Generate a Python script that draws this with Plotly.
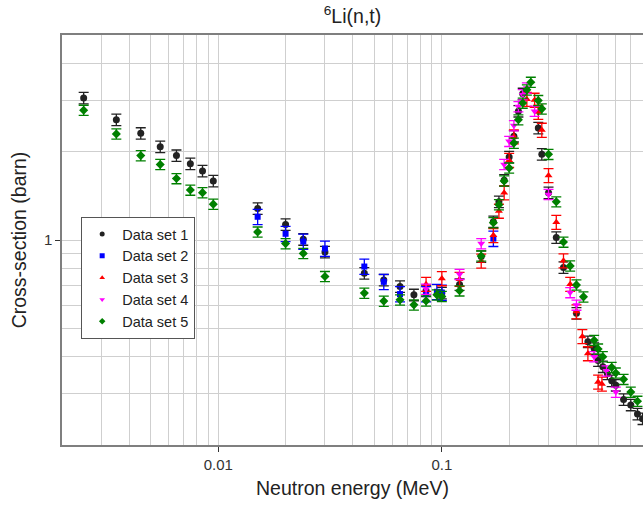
import plotly.graph_objects as go

# ---- measured 6Li(n,t) cross-sections: energy in MeV, cross-section in barn ----
set1_e = [0.0025, 0.0035, 0.0045, 0.0055, 0.0065, 0.0075, 0.0085, 0.0095,
          0.015, 0.02, 0.024, 0.03, 0.045, 0.055, 0.065, 0.075, 0.085, 0.1,
          0.12, 0.15, 0.17, 0.18, 0.19, 0.2, 0.21, 0.22, 0.23, 0.27, 0.28,
          0.3, 0.325, 0.35, 0.4, 0.45, 0.48, 0.5, 0.525, 0.55, 0.575, 0.6,
          0.65, 0.7, 0.75, 0.79]
set1_xs = [3.05, 2.57, 2.31, 2.08, 1.94, 1.82, 1.72, 1.59,
           1.28, 1.13, 1.005, 0.91, 0.77, 0.73, 0.694, 0.65, 0.671, 0.66,
           0.705, 0.878, 1.155, 1.35, 1.60, 1.92, 2.26, 2.75, 3.15, 2.41, 1.96,
           1.45, 1.02, 0.806, 0.563, 0.45, 0.427, 0.388, 0.37, 0.35, 0.331, 0.32,
           0.286, 0.274, 0.255, 0.246]

set2_e = [0.015, 0.02, 0.024, 0.03, 0.045, 0.055, 0.065, 0.085, 0.095, 0.1, 0.17]
set2_xs = [1.20, 1.05, 0.988, 0.935, 0.812, 0.72, 0.654, 0.654, 0.666, 0.662, 1.011]

set3_e = [0.085, 0.1, 0.12, 0.15, 0.17, 0.18, 0.19, 0.2, 0.21, 0.24, 0.26,
          0.27, 0.28, 0.3, 0.325, 0.35, 0.375, 0.4, 0.425, 0.45, 0.5, 0.52]
set3_xs = [0.707, 0.739, 0.735, 0.848, 1.037, 1.255, 1.45, 1.87, 2.25, 3.02, 3.0,
           2.73, 2.37, 1.66, 1.15, 0.85, 0.707, 0.57, 0.469, 0.41, 0.328, 0.323]

set4_e = [0.085, 0.12, 0.15, 0.19, 0.2, 0.21, 0.22, 0.23, 0.24, 0.26, 0.3,
          0.375, 0.4, 0.48, 0.545, 0.6]
set4_xs = [0.68, 0.764, 0.972, 1.81, 2.17, 2.455, 2.85, 3.13, 3.3, 2.75, 1.43,
           0.662, 0.60, 0.40, 0.358, 0.303]

set5_e = [0.0025, 0.0035, 0.0045, 0.0055, 0.0065, 0.0075, 0.0085, 0.0095,
          0.015, 0.02, 0.024, 0.03, 0.045, 0.055, 0.065, 0.075, 0.085, 0.095,
          0.1, 0.12, 0.15, 0.17, 0.18, 0.19, 0.2, 0.21, 0.22, 0.23, 0.24, 0.25,
          0.27, 0.28, 0.3, 0.325, 0.35, 0.375, 0.4, 0.43, 0.48, 0.5, 0.525,
          0.575, 0.6, 0.65, 0.7, 0.75]
set5_xs = [2.77, 2.30, 1.94, 1.81, 1.62, 1.48, 1.45, 1.325,
           1.065, 0.972, 0.90, 0.751, 0.659, 0.619, 0.625, 0.601, 0.62, 0.65,
           0.642, 0.671, 0.882, 1.146, 1.32, 1.59, 1.76, 2.14, 2.57, 2.93, 3.25, 3.45,
           2.99, 2.80, 1.96, 1.35, 0.984, 0.816, 0.703, 0.64, 0.455, 0.425, 0.40,
           0.368, 0.352, 0.335, 0.303, 0.282]

# relative uncertainty quoted for each data set
rel_err = [0.045, 0.06, 0.055, 0.04, 0.04]

names = ["Data set 1", "Data set 2", "Data set 3", "Data set 4", "Data set 5"]
colors = ["#222222", "#0000ff", "#ff0000", "#ff00ff", "#008000"]
symbols = ["circle", "square", "triangle-up", "triangle-down", "diamond"]
sizes = [7, 6, 7, 7, 7]

energies = [set1_e, set2_e, set3_e, set4_e, set5_e]
xsecs = [set1_xs, set2_xs, set3_xs, set4_xs, set5_xs]

# gridline positions
x_minor = [m * 10 ** p for p in (-3, -2, -1) for m in range(2, 10)]
x_minor = [v for v in x_minor if v >= 0.002]
y_minor = [0.2, 0.3, 0.4, 0.5, 0.6, 0.7, 0.8, 0.9, 2, 3, 4]

FONT = "Liberation Sans, Arial, sans-serif"
GRID = "#cfcfcf"
FRAME = "#7f7f7f"

fig = go.Figure()
for e, s, name, col, sym, sz, re in zip(energies, xsecs, names, colors, symbols, sizes, rel_err):
    fig.add_trace(go.Scatter(
        x=e, y=s, mode="markers", name=name, showlegend=False,
        marker=dict(color=col, symbol=sym, size=sz, line=dict(width=0)),
        error_y=dict(type="data", array=[v * re for v in s], color=col,
                     thickness=1.3, width=5),
    ))
    # small-symbol legend entry
    fig.add_trace(go.Scatter(
        x=[None], y=[None], mode="markers", name=name, showlegend=True,
        marker=dict(color=col, symbol=sym, size=5, line=dict(width=0)),
    ))

fig.update_layout(
    width=643, height=508,
    margin=dict(l=62, r=0, t=35, b=63),
    paper_bgcolor="white", plot_bgcolor="white",
    font=dict(family=FONT, color="#222222", size=14),
    title=dict(text="<sup>6</sup>Li(n,t)", x=0.5, xref="paper", xanchor="center",
               y=1 - 16 / 508, yref="container", yanchor="middle",
               font=dict(size=19.5, family=FONT, color="#222222")),
    showlegend=True,
    legend=dict(x=0.033, y=0.556, xanchor="left", yanchor="top",
                bgcolor="white", bordercolor="#555555", borderwidth=1,
                font=dict(size=14.5, family=FONT, color="#222222"),
                tracegroupgap=0, itemsizing="trace"),
)

fig.update_xaxes(
    type="log", range=[-2.699, -0.1003],
    tickvals=[0.01, 0.1], ticktext=["0.01", "0.1"],
    ticks="outside", ticklen=5, tickcolor="#333333",
    tickfont=dict(size=15, family=FONT, color="#333333"),
    showgrid=True, gridcolor=GRID, gridwidth=1,
    minor=dict(tickvals=x_minor, showgrid=True, gridcolor=GRID, gridwidth=1, ticks=""),
    showline=True, linecolor=FRAME, linewidth=1.5, mirror=True,
    zeroline=False,
    title=dict(text="Neutron energy (MeV)", font=dict(size=19.5, family=FONT, color="#222222"),
               standoff=10),
)
fig.update_yaxes(
    type="log", range=[-0.69897, 0.69897],
    tickvals=[1], ticktext=["1"],
    ticks="outside", ticklen=5, tickcolor="#333333",
    tickfont=dict(size=15, family=FONT, color="#333333"),
    showgrid=True, gridcolor=GRID, gridwidth=1,
    minor=dict(tickvals=y_minor, showgrid=True, gridcolor=GRID, gridwidth=1, ticks=""),
    showline=True, linecolor=FRAME, linewidth=1.5, mirror=False,
    zeroline=False,
    title=dict(text="Cross-section (barn)", font=dict(size=19.5, family=FONT, color="#222222"),
               standoff=12),
)

fig.write_html("out.html")
